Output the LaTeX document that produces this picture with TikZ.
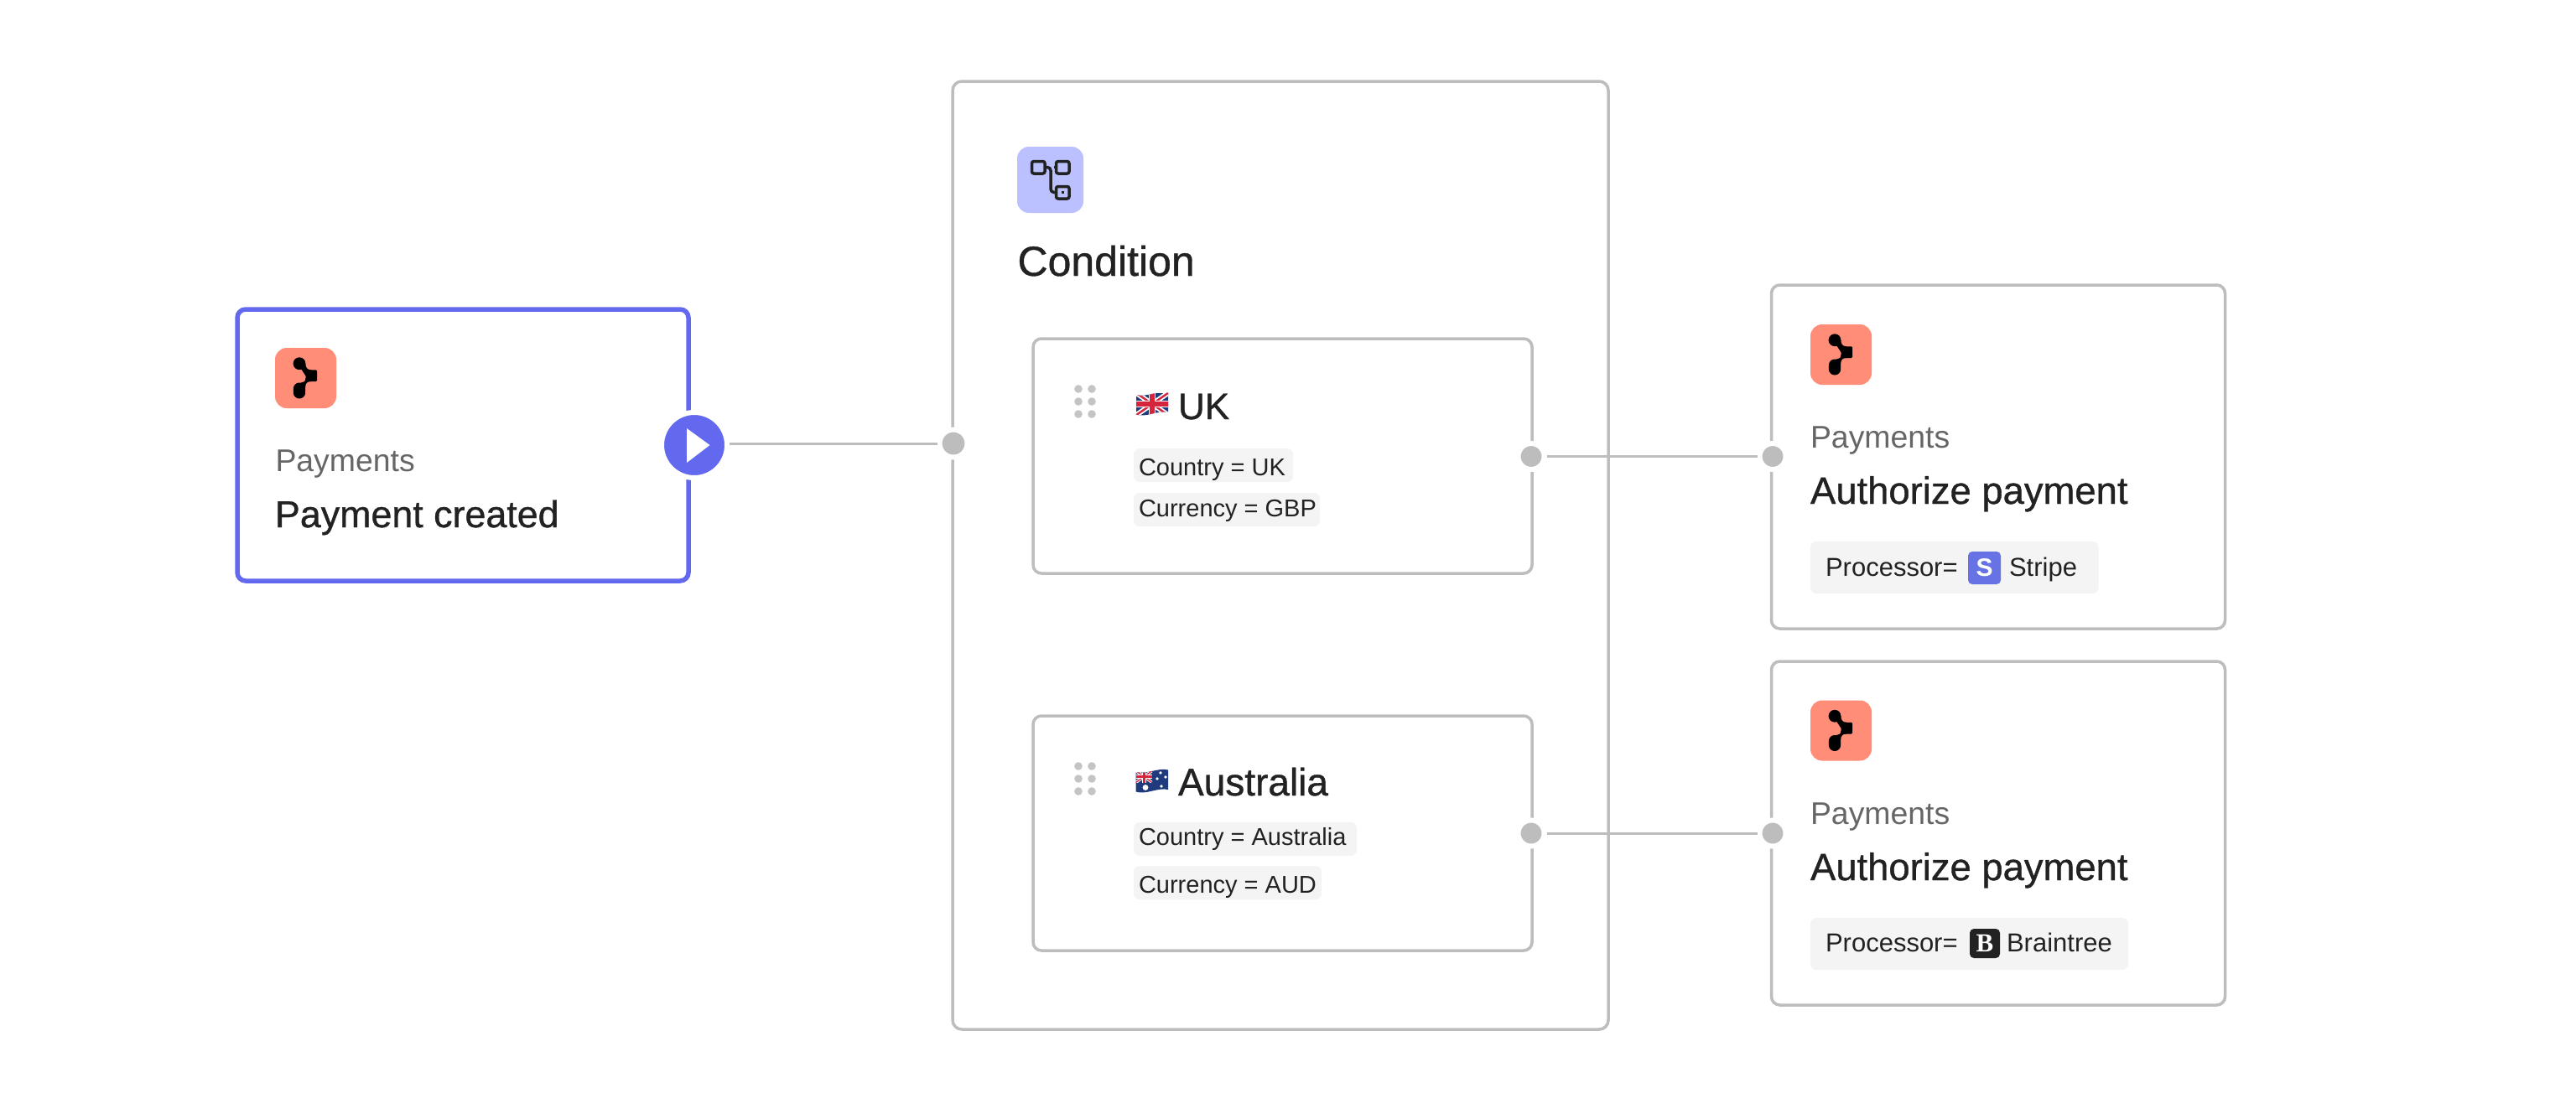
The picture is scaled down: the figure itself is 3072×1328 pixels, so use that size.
\documentclass[tikz,border=0pt]{standalone}
\usepackage{fontspec}
\setmainfont{Liberation Sans}
\newfontfamily\titlefont{Liberation Sans}[FakeBold=0.8]
\newfontfamily\serifbold{Liberation Serif}[BoldFont={Liberation Serif Bold}]
\definecolor{edgegray}{HTML}{BDBDBD}
\definecolor{gripgray}{HTML}{C4C4C4}
\definecolor{indigo}{HTML}{6369EE}
\definecolor{salmon}{HTML}{FF8D78}
\definecolor{lavender}{HTML}{BBC1FF}
\definecolor{ink}{HTML}{222222}
\definecolor{mutedtxt}{HTML}{666666}
\definecolor{chipgray}{HTML}{F4F4F4}
\definecolor{stripeblue}{HTML}{6772E5}
\definecolor{flagnavy}{HTML}{1F3A7D}
\definecolor{flagred}{HTML}{D6243D}
\tikzset{
  x=0.5pt,y=-0.5pt,
  card/.style={draw=edgegray,line width=1.75pt,fill=white,rounded corners=5.5pt,inner sep=0pt,outer sep=0pt},
  startcard/.style={draw=indigo,line width=2.75pt,fill=white,rounded corners=5pt,inner sep=0pt,outer sep=0pt},
  tile/.style={fill=#1,rounded corners=7pt,inner sep=0pt,outer sep=0pt},
  chip/.style={fill=chipgray,rounded corners=3.5pt,inner sep=0pt,outer sep=0pt},
  logo/.style={fill=#1,rounded corners=2.5pt,inner sep=0pt,outer sep=0pt,text=white,align=center},
  label/.style={anchor=base west,inner sep=0pt,outer sep=0pt,text=ink},
  sub/.style={label,text=mutedtxt,font=\fontsize{18.7}{22}\selectfont},
  head/.style={label,font=\fontsize{#1}{26}\selectfont\titlefont},
  small/.style={label,font=\fontsize{14.5}{18}\selectfont},
  proc/.style={label,font=\fontsize{15.5}{18}\selectfont},
  port/.style={circle,fill=edgegray,draw=white,line width=3pt,minimum size=15.5pt,inner sep=0pt},
  portb/.style={port,minimum size=16.5pt},
  playport/.style={circle,fill=indigo,draw=white,line width=3pt,minimum size=39pt,inner sep=0pt},
  wire/.style={draw=edgegray,line width=1.5pt},
  gripdot/.style={circle,fill=gripgray,minimum size=4.8pt,inner sep=0pt},
}
% name, style, x1, y1, x2, y2 in reference pixels
\newcommand{\bx}[6]{%
  \pgfmathsetmacro{\bxw}{(#5-#3)/2}\pgfmathsetmacro{\bxh}{(#6-#4)/2}%
  \node[#2,minimum width=\bxw pt,minimum height=\bxh pt] (#1) at ({(#3+#5)/2},{(#4+#6)/2}) {};}
% brand tile with its top-left corner
\newcommand{\brand}[3]{%
  \bx{#1}{tile=salmon}{#2}{#3}{#2+73}{#3+72}
  \begin{scope}[shift={(#2,#3)},x=0.5pt,y=-0.5pt]
    \fill[black] (29,18.7) circle[radius=3.7pt];
    \fill[black,rounded corners=0.6pt] (36.5,26.3) rectangle (50,40);
    \fill[black] (36.4,18.7) .. controls (36.4,23) and (38,26.3) .. (43,26.3) -- (37,34) -- (31,25) -- cycle;
    \fill[black] (21.8,53.3) -- (21.8,49) .. controls (21.8,44.5) and (25,41.5) .. (29,41.5) -- (31,41.5)
       .. controls (34,41.5) and (36.5,40) .. (36.5,36) -- (43,40) .. controls (38,40) and (36.2,42.5) .. (36.2,47)
       -- (36.2,53.3) arc[start angle=0,end angle=-180,radius=3.6pt] -- cycle;
  \end{scope}}
% union flag part: box x1 y1 x2 y2, and a factor for the stripes
\newcommand{\union}[5]{%
  \fill[flagnavy] (#1,#2) rectangle (#3,#4);
  \draw[white,line width=#5*3pt] (#1,#2) -- (#3,#4) (#1,#4) -- (#3,#2);
  \draw[flagred,line width=#5*1.2pt] (#1,#2) -- (#3,#4) (#1,#4) -- (#3,#2);
  \draw[white,line width=#5*4.2pt] ({(#1+#3)/2},#2) -- ({(#1+#3)/2},#4) (#1,{(#2+#4)/2}) -- (#3,{(#2+#4)/2});
  \draw[flagred,line width=#5*2.6pt] ({(#1+#3)/2},#2) -- ({(#1+#3)/2},#4) (#1,{(#2+#4)/2}) -- (#3,{(#2+#4)/2});}
\newcommand{\wavyflag}{(0,2.5) .. controls (13,6) and (26,-3) .. (38.5,0) -- (38.5,23.5) .. controls (26,20.5) and (13,30) .. (0,26) -- cycle}
\newcommand{\grip}[3]{%
  \node[gripdot] (#1a) at (#2,#3) {};
  \node[gripdot] (#1b) at (#2+16,#3) {};
  \node[gripdot] (#1c) at (#2,#3+15) {};
  \node[gripdot] (#1d) at (#2+16,#3+15) {};
  \node[gripdot] (#1e) at (#2,#3+30) {};
  \node[gripdot] (#1f) at (#2+16,#3+30) {};}
\begin{document}
\begin{tikzpicture}
\fill[white] (0,0) rectangle (3072,1328);
\useasboundingbox (0,0) rectangle (3072,1328);

% boxes
\bx{trigger}{startcard}{283}{369}{821}{693}
\bx{condition}{card}{1136}{97}{1918}{1228}
\bx{ukbox}{card,rounded corners=5pt}{1232}{404}{1827}{684}
\bx{aubox}{card,rounded corners=5pt}{1232}{854}{1827}{1134}
\bx{authone}{card,rounded corners=5pt}{2112.5}{340}{2653.5}{750}
\bx{authtwo}{card,rounded corners=5pt}{2112.5}{789}{2653.5}{1199}

% trigger content
\brand{trigicon}{328}{415}
\node[sub] (trigsub) at (328.5,562) {Payments};
\node[head=22.4] (trigtitle) at (328,629) {Payment created};

% condition header
\bx{condicon}{tile=lavender}{1213}{175}{1292}{254}
\begin{scope}[draw=ink,line width=1.75pt]
  \draw[rounded corners=1.2pt] (1230.5,192.5) rectangle (1246,207);
  \draw[rounded corners=1.2pt] (1259.5,192.5) rectangle (1275,207);
  \draw[rounded corners=1.2pt] (1259.5,222.5) rectangle (1275,237);
  \draw[rounded corners=2pt] (1246,199.5) -- (1253,199.5) -- (1253,229.5) -- (1259.5,229.5);
  \draw (1257,199.5) -- (1259.5,199.5);
  \fill[ink] (1265.5,228) rectangle (1268.5,231);
\end{scope}
\node[head=25] (condtitle) at (1213.5,329) {Condition};

% UK
\grip{ukg}{1286}{464}
\begin{scope}[shift={(1354.5,468.5)}]
  \clip \wavyflag;
  \union{0}{0}{39}{27}{1}
\end{scope}
\node[head=22] (uktitle) at (1405,500) {UK};
\bx{ukc1}{chip}{1352}{535}{1542}{575}
\node[small] (ukt1) at (1358,567) {Country = UK};
\bx{ukc2}{chip}{1352}{588}{1574}{628}
\node[small] (ukt2) at (1358,616) {Currency = GBP};

% Australia
\grip{aug}{1286}{914}
\begin{scope}[shift={(1354.5,918.5)}]
  \clip \wavyflag;
  \fill[flagnavy] (-1,-4) rectangle (40,30);
  \begin{scope}
    \clip (0,-2) rectangle (19.5,15);
    \union{0}{1}{19.5}{15}{0.55}
  \end{scope}
  \fill[white] (11.5,21) circle[radius=1.7pt];
  \foreach \sx/\sy in {29.5/3.5,25.5/10.5,35.5/8.5,30.5/19.5}
    \fill[white] (\sx,\sy) circle[radius=0.9pt];
\end{scope}
\node[head=23] (autitle) at (1405,949) {Australia};
\bx{auc1}{chip}{1352}{981}{1618}{1021}
\node[small] (aut1) at (1358,1008) {Country = Australia};
\bx{auc2}{chip}{1352}{1033}{1576}{1073}
\node[small] (aut2) at (1358,1065) {Currency = AUD};

% Authorize / Stripe
\brand{oneicon}{2159}{387}
\node[sub] (onesub) at (2159,534) {Payments};
\node[head=22.7] (onetitle) at (2159,601) {Authorize payment};
\bx{onechip}{chip}{2159}{646}{2502.5}{708}
\node[proc] (oneproc) at (2177,687) {Processor=};
\node[logo=stripeblue,minimum width=19.5pt,minimum height=19.5pt,font=\fontsize{15}{15}\selectfont\bfseries] (stripelogo) at (2366.5,677.5) {S};
\node[proc] (onename) at (2396,687) {Stripe};

% Authorize / Braintree
\brand{twoicon}{2159}{835.5}
\node[sub] (twosub) at (2159,983) {Payments};
\node[head=22.7] (twotitle) at (2159,1050) {Authorize payment};
\bx{twochip}{chip}{2159}{1095}{2538}{1157}
\node[proc] (twoproc) at (2177,1135) {Processor=};
\node[logo=ink,minimum width=18pt,minimum height=17.5pt,font=\fontsize{15.5}{15.5}\selectfont\serifbold\bfseries] (btlogo) at (2367,1125.5) {B};
\node[proc] (twoname) at (2393,1135) {Braintree};

% ports
\node[portb] (condin) at (1137,529) {};
\node[port] (ukout) at (1826,544.5) {};
\node[port] (auout) at (1826,994) {};
\node[port] (onein) at (2114,544.5) {};
\node[port] (twoin) at (2114,994) {};
\node[playport] (play) at (828,531) {};
\fill[white] (819,511) -- (846.5,531) -- (819,552) -- cycle;

% wires
\draw[wire] (play.east |- condin.west) -- (condin.west);
\draw[wire] (ukout.east) -- (onein.west);
\draw[wire] (auout.east) -- (twoin.west);
\end{tikzpicture}
\end{document}
